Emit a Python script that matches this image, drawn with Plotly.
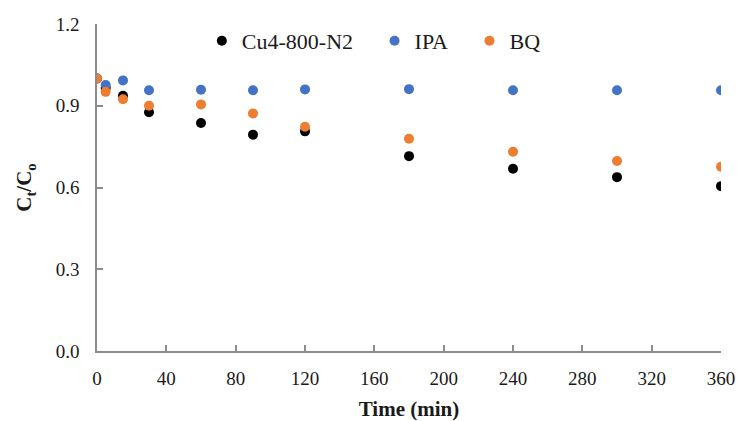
import plotly.graph_objects as go

time_min = [0, 5, 15, 30, 60, 90, 120, 180, 240, 300, 360]
cu4_800_n2 = [1.0, 0.965, 0.937, 0.876, 0.837, 0.794, 0.806, 0.715, 0.669, 0.638, 0.605]
ipa = [1.0, 0.976, 0.993, 0.957, 0.959, 0.957, 0.960, 0.961, 0.957, 0.957, 0.957]
bq = [1.0, 0.951, 0.924, 0.900, 0.905, 0.872, 0.823, 0.779, 0.731, 0.697, 0.676]

series = [
    ("Cu4-800-N2", cu4_800_n2, "#000000"),
    ("IPA", ipa, "#4472C4"),
    ("BQ", bq, "#ED7D31"),
]
pad = "&nbsp;" * 3

fig = go.Figure()
for name, vals, color in series:
    fig.add_trace(go.Scatter(
        x=time_min, y=vals, mode="markers", name=name + pad,
        marker=dict(color=color, size=10, line=dict(width=0)),
    ))

font_family = "Liberation Serif, Times New Roman, serif"
axis_common = dict(
    showgrid=False, zeroline=False, showline=True,
    linecolor="#8c8c8c", linewidth=1.5,
    ticks="inside", ticklen=6, tickcolor="#8c8c8c", tickwidth=1.5,
    tickfont=dict(family=font_family, size=19, color="#1a1a1a"),
    automargin=False,
)

fig.update_layout(
    width=739, height=421,
    margin=dict(l=97, r=18, t=24, b=70),
    paper_bgcolor="white", plot_bgcolor="white",
    font=dict(family=font_family, color="#1a1a1a"),
    showlegend=True,
    legend=dict(
        orientation="h", x=0.168, y=0.948, xanchor="left", yanchor="middle",
        font=dict(family=font_family, size=22, color="#1a1a1a"),
        bgcolor="rgba(0,0,0,0)", itemwidth=30,
    ),
    xaxis=dict(
        range=[0, 360], tickvals=list(range(0, 361, 40)),
        ticklabelstandoff=9,
        title=dict(text="Time (min)", font=dict(family=font_family, size=21, color="#1a1a1a", weight="bold"), standoff=14),
        **axis_common,
    ),
    yaxis=dict(
        range=[0, 1.2], tickvals=[0, 0.3, 0.6, 0.9, 1.2], tickformat=".1f",
        ticklabelstandoff=12,
        title=dict(text="C<sub>t</sub>/C<sub>o</sub>", font=dict(family=font_family, size=21, color="#1a1a1a", weight="bold"), standoff=18),
        **axis_common,
    ),
)

fig.write_html("out.html")
